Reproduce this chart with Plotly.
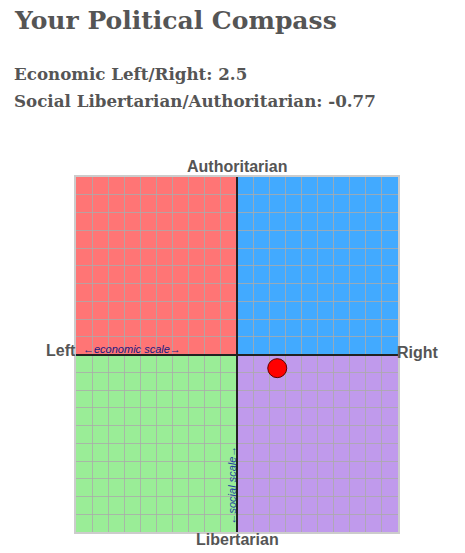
import plotly.graph_objects as go

# Data
economic = [2.5]
social = [-0.77]
quad_names = ["Authoritarian Left", "Authoritarian Right", "Libertarian Left", "Libertarian Right"]
quad_x0 = [-10, 0, -10, 0]
quad_x1 = [0, 10, 0, 10]
quad_y0 = [0, 0, -10, -10]
quad_y1 = [10, 10, 0, 0]
quad_colors = ["#ff7575", "#42aaff", "#9aed97", "#c09aec"]

W, H = 465, 553
L, R, T, B = 76, 398, 177, 532

fig = go.Figure()
fig.add_trace(go.Scatter(
    x=economic, y=social, mode="markers",
    marker=dict(size=19, color="#ff0000", line=dict(color="#5a0000", width=1)),
    hoverinfo="skip", showlegend=False, cliponaxis=False,
))

for x0, x1, y0, y1, c in zip(quad_x0, quad_x1, quad_y0, quad_y1, quad_colors):
    fig.add_shape(type="rect", x0=x0, x1=x1, y0=y0, y1=y1, xref="x", yref="y",
                  fillcolor=c, line=dict(width=0), layer="below")

axis_common = dict(range=[-10, 10], dtick=1, tick0=0, showticklabels=False, ticks="",
                   showgrid=True, gridcolor="rgba(170,170,170,0.8)", gridwidth=1,
                   zeroline=True, zerolinecolor="#222222", zerolinewidth=2,
                   showline=True, linecolor="#cccccc", linewidth=2, mirror=True,
                   fixedrange=True)

fig.update_layout(
    width=W, height=H,
    margin=dict(l=0, r=0, t=0, b=0),
    paper_bgcolor="white", plot_bgcolor="white",
    xaxis=dict(domain=[L / W, R / W], **axis_common),
    yaxis=dict(domain=[1 - B / H, 1 - T / H], **axis_common),
    showlegend=False,
)

gray = "#555555"
lab_font = dict(family="Liberation Sans, Arial", size=16, color=gray)
scale_font = dict(family="Liberation Sans, Arial", size=11, color="#1a1a80")
ann = []
ann.append(dict(text="<b>Authoritarian</b>", x=0, y=10, xref="x", yref="y",
                xanchor="center", yanchor="bottom", yshift=0, showarrow=False, font=lab_font))
ann.append(dict(text="<b>Libertarian</b>", x=0, y=-10, xref="x", yref="y",
                xanchor="center", yanchor="top", yshift=3, showarrow=False, font=lab_font))
ann.append(dict(text="<b>Left</b>", x=-10, y=0, xref="x", yref="y",
                xanchor="right", yanchor="middle", yshift=4, xshift=2, showarrow=False, font=lab_font))
ann.append(dict(text="<b>Right</b>", x=10, y=0, xref="x", yref="y",
                xanchor="left", yanchor="middle", yshift=2, xshift=-3, showarrow=False, font=lab_font))
ann.append(dict(text="<i>←economic scale→</i>", x=-10, y=0, xref="x", yref="y",
                xanchor="left", yanchor="bottom", xshift=5, yshift=-2, showarrow=False,
                font=scale_font))
ann.append(dict(text="<i>←social scale→</i>", x=0, y=-10, xref="x", yref="y",
                xanchor="right", yanchor="bottom", xshift=2, yshift=5, textangle=-90,
                showarrow=False, font=dict(family="Liberation Sans, Arial", size=11, color="#2040a0")))

serif = "DejaVu Serif, Georgia, serif"
ann.append(dict(text="<b>Your Political Compass</b>", x=12 / W, y=1 - 4 / H, xref="paper", yref="paper",
                xanchor="left", yanchor="top", showarrow=False,
                font=dict(family=serif, size=25, color=gray)))
ann.append(dict(text="<b>Economic Left/Right: 2.5</b>", x=12 / W, y=1 - 62 / H, xref="paper", yref="paper",
                xanchor="left", yanchor="top", showarrow=False,
                font=dict(family=serif, size=16.7, color=gray)))
ann.append(dict(text="<b>Social Libertarian/Authoritarian: -0.77</b>", x=12 / W, y=1 - 89 / H,
                xref="paper", yref="paper",
                xanchor="left", yanchor="top", showarrow=False,
                font=dict(family=serif, size=16.7, color=gray)))
fig.update_layout(annotations=ann)

fig.write_html("out.html", config={"displayModeBar": False},
               post_script="document.body.style.margin='0';document.body.style.padding='0';")
